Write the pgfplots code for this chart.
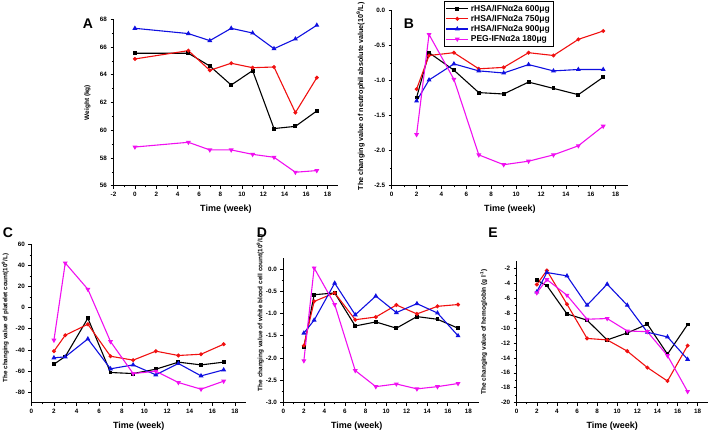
\documentclass[border=0pt]{standalone}
\usepackage{fontspec}
\setmainfont{Liberation Sans}
\usepackage{pgfplots}
\pgfplotsset{compat=1.18}
\definecolor{cblack}{HTML}{000000}
\definecolor{cred}{HTML}{F01010}
\definecolor{cblue}{HTML}{1010E0}
\definecolor{cmag}{HTML}{F010F0}
\pgfplotsset{
  panel/.style={
    scale only axis, anchor=south west,
    axis x line*=bottom, axis y line*=left,
    axis line style={-, line width=0.8pt},
    every outer x axis line/.append style={-},
    every outer y axis line/.append style={-},
    tick align=outside,
    tick style={black, line width=0.6pt},
    major tick length=3pt, minor tick length=1.6pt,
    minor x tick num=1, minor y tick num=1,
    tick label style={font=\fontsize{6.3}{7}\selectfont\bfseries},
    /pgf/number format/assume math mode=true,
    xlabel={Time (week)},
    xlabel style={font=\fontsize{9}{10}\selectfont\bfseries,
      at={(axis description cs:0.5,0)}, anchor=center, yshift=-23pt},
    ylabel style={anchor=center},
    xtick={0,2,...,18},
  },
  s600/.style={cblack, line width=1.1pt, mark=square*, mark size=1.4pt},
  s750/.style={cred, line width=1.1pt, mark=*, mark size=1.4pt},
  s900/.style={cblue, line width=1.1pt, mark=triangle*, mark size=1.8pt},
  speg/.style={cmag, line width=1.1pt, mark=triangle*, mark size=1.8pt, mark options={rotate=180}},
  dec1/.style={yticklabel style={/pgf/number format/.cd, fixed, fixed zerofill, precision=1}},
}
\begin{document}
\begin{tikzpicture}

% A: weight
\begin{axis}[panel, at={(113.5pt,245.3pt)}, width=224.7pt, height=166.4pt,
  xmin=-2, xmax=19, ymin=56, ymax=68, xtick={-2,0,...,18}, ytick={56,58,...,68},
  ylabel={Weight (kg)},
  ylabel style={font=\fontsize{6.5}{7}\selectfont\bfseries, at={(axis description cs:-0.116,0.5)}}]
\addplot[s600] coordinates {(0,65.55)(5,65.55)(7,64.63)(9,63.26)(11,64.30)(13,60.12)(15,60.28)(17,61.39)};
\addplot[s750] coordinates {(0,65.14)(5,65.74)(7,64.32)(9,64.83)(11,64.51)(13,64.56)(15,61.27)(17,63.79)};
\addplot[s900] coordinates {(0,67.35)(5,66.97)(7,66.46)(9,67.35)(11,67.01)(13,65.88)(15,66.58)(17,67.57)};
\addplot[speg] coordinates {(0,58.79)(5,59.13)(7,58.58)(9,58.58)(11,58.26)(13,58.05)(15,56.97)(17,57.09)};
\end{axis}

% B: neutrophil
\begin{axis}[panel, dec1, at={(391.7pt,245.3pt)}, width=236.4pt, height=175pt,
  xmin=0, xmax=19, ymin=-2.5, ymax=0, ytick={-2.5,-2.0,-1.5,-1.0,-0.5,0.0},
  ylabel={The changing value of neutrophil absolute value(10\textsuperscript{9}/L)},
  ylabel style={font=\fontsize{7.2}{8}\selectfont\bfseries, at={(axis description cs:-0.131,0.51)}},
  legend style={at={(axis description cs:0.221,1.055)}, anchor=north west,
    draw=black, line width=0.6pt, fill=white, inner sep=1.5pt, row sep=-1.5pt,
    font=\fontsize{8.5}{9.5}\selectfont\bfseries, cells={anchor=west}},
  legend image code/.code={\draw[mark repeat=2,mark phase=2] plot coordinates {(0pt,0pt) (11pt,0pt) (22pt,0pt)};}]
\addplot[s600] coordinates {(2,-1.24)(3,-0.60)(5,-0.85)(7,-1.17)(9,-1.19)(11,-1.02)(13,-1.11)(15,-1.20)(17,-0.95)};
\addlegendentry{rHSA/IFNα2a 600μg}
\addplot[s750] coordinates {(2,-1.12)(3,-0.64)(5,-0.60)(7,-0.83)(9,-0.81)(11,-0.60)(13,-0.64)(15,-0.41)(17,-0.29)};
\addlegendentry{rHSA/IFNα2a 750μg}
\addplot[s900] coordinates {(2,-1.29)(3,-0.99)(5,-0.76)(7,-0.86)(9,-0.89)(11,-0.77)(13,-0.86)(15,-0.84)(17,-0.84)};
\addlegendentry{rHSA/IFNα2a 900μg}
\addplot[speg] coordinates {(2,-1.77)(3,-0.34)(5,-0.98)(7,-2.06)(9,-2.20)(11,-2.15)(13,-2.06)(15,-1.93)(17,-1.65)};
\addlegendentry{PEG-IFNα2a 180μg}
\end{axis}

% C: platelet
\begin{axis}[panel, at={(31.3pt,28.3pt)}, width=215pt, height=158.4pt,
  xmin=0, xmax=19, ymin=-90, ymax=60, ytick={-80,-60,...,60},
  ylabel={The changing value of platelet count(10\textsuperscript{9}/L)},
  ylabel style={font=\fontsize{6.3}{7}\selectfont\bfseries, at={(axis description cs:-0.121,0.535)}}]
\addplot[s600] coordinates {(2,-53.5)(3,-46.3)(5,-10.0)(7,-61.4)(9,-62.4)(11,-58.3)(13,-51.6)(15,-54.2)(17,-51.6)};
\addplot[s750] coordinates {(2,-41.2)(3,-26.1)(5,-15.7)(7,-46.0)(9,-49.7)(11,-41.2)(13,-45.3)(15,-44.1)(17,-34.6)};
\addplot[s900] coordinates {(2,-47.5)(3,-46.6)(5,-29.6)(7,-57.9)(9,-54.2)(11,-63.6)(13,-52.9)(15,-64.6)(17,-58.9)};
\addplot[speg] coordinates {(2,-30.8)(3,42.3)(5,17.4)(7,-32.1)(9,-62.4)(11,-60.2)(13,-70.9)(15,-77.2)(17,-69.6)};
\end{axis}

% D: white blood cell
\begin{axis}[panel, dec1, at={(283.3pt,28.3pt)}, width=195.3pt, height=145pt,
  xmin=0, xmax=19, ymin=-3, ymax=0.25, ytick={-3.0,-2.5,-2.0,-1.5,-1.0,-0.5,0.0},
  xlabel style={at={(axis description cs:0.376,0)}},
  ylabel={The changing value of white blood cell count(10\textsuperscript{9}/L)},
  ylabel style={font=\fontsize{6.4}{7}\selectfont\bfseries, at={(axis description cs:-0.118,0.62)}}]
\addplot[s600] coordinates {(2,-1.76)(3,-0.58)(5,-0.54)(7,-1.28)(9,-1.19)(11,-1.33)(13,-1.07)(15,-1.13)(17,-1.33)};
\addplot[s750] coordinates {(2,-1.72)(3,-0.73)(5,-0.54)(7,-1.14)(9,-1.08)(11,-0.81)(13,-1.01)(15,-0.84)(17,-0.80)};
\addplot[s900] coordinates {(2,-1.44)(3,-1.15)(5,-0.32)(7,-1.03)(9,-0.61)(11,-0.98)(13,-0.78)(15,-0.99)(17,-1.50)};
\addplot[speg] coordinates {(2,-2.06)(3,0.02)(5,-0.80)(7,-2.28)(9,-2.64)(11,-2.58)(13,-2.69)(15,-2.64)(17,-2.57)};
\end{axis}

% E: hemoglobin
\begin{axis}[panel, at={(516.7pt,28.3pt)}, width=191pt, height=142pt,
  xmin=0, xmax=19, ymin=-20, ymax=-1, ytick={-20,-18,...,-2},
  ylabel={The changing value of hemoglobin (g l\textsuperscript{-1})},
  ylabel style={font=\fontsize{6.5}{7}\selectfont\bfseries, at={(axis description cs:-0.173,0.5)}}]
\addplot[s600] coordinates {(2,-3.61)(3,-4.32)(5,-8.12)(7,-8.96)(9,-11.6)(11,-10.66)(13,-9.5)(15,-13.5)(17,-9.54)};
\addplot[s750] coordinates {(2,-4.19)(3,-2.31)(5,-6.82)(7,-11.4)(9,-11.6)(11,-13.1)(13,-15.3)(15,-17.1)(17,-12.36)};
\addplot[s900] coordinates {(2,-5.17)(3,-2.58)(5,-3.03)(7,-6.96)(9,-4.14)(11,-6.96)(13,-10.57)(15,-11.2)(17,-14.2)};
\addplot[speg] coordinates {(2,-5.3)(3,-3.52)(5,-5.62)(7,-8.83)(9,-8.74)(11,-10.4)(13,-10.5)(15,-13.7)(17,-18.5)};
\end{axis}

\node[font=\fontsize{14}{15}\selectfont\bfseries] at (88pt,407pt) {A};
\node[font=\fontsize{14}{15}\selectfont\bfseries] at (409pt,407pt) {B};
\node[font=\fontsize{14}{15}\selectfont\bfseries] at (8pt,198pt) {C};
\node[font=\fontsize{14}{15}\selectfont\bfseries] at (262pt,198pt) {D};
\node[font=\fontsize{14}{15}\selectfont\bfseries] at (493pt,198pt) {E};

\pgfresetboundingbox
\useasboundingbox (0pt,0pt) rectangle (709pt,431pt);
\end{tikzpicture}
\end{document}
